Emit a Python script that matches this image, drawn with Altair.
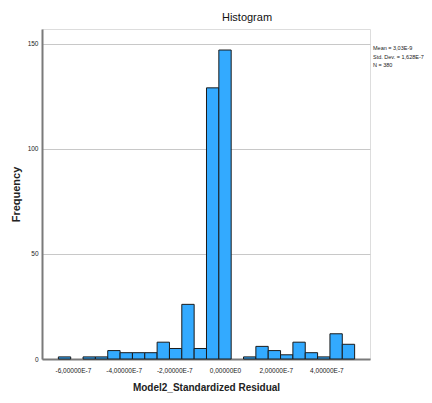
import altair as alt
import pandas as pd

# Histogram of Model2_Standardized Residual
bin_width = 0.487e-7
first_edge = -13.5 * bin_width
counts = [1, 0, 1, 1, 4, 3, 3, 3, 8, 5, 26, 5, 129, 147,
          0, 1, 6, 4, 2, 8, 3, 1, 12, 7]
x_ticks = [-6e-7, -4e-7, -2e-7, 0.0, 2e-7, 4e-7]
y_ticks = [0, 50, 100, 150]
stats_lines = ["Mean = 3,03E-9", "Std. Dev. = 1,628E-7", "N = 380"]

rows = []
for i, c in enumerate(counts):
    if c > 0:
        lo = first_edge + i * bin_width
        rows.append({"lo": lo, "hi": lo + bin_width, "count": c})
df = pd.DataFrame(rows)

X_DOM = [-7.22e-7, 5.72e-7]
Y_DOM = [0, 157]
W, H = 328, 330
FONT = "Liberation Sans"

label_expr = ("datum.value == 0 ? '0,00000E0' : "
              "replace(replace(format(datum.value / 1e-7, '.5f'), '.', ','), '\u2212', '-') + 'E-7'")

bars = alt.Chart(df).mark_rect(
    fill="#33aaff", stroke="#1b1b1b", strokeWidth=1
).encode(
    x=alt.X("lo:Q", scale=alt.Scale(domain=X_DOM, nice=False, zero=False),
            axis=alt.Axis(values=x_ticks, labelExpr=label_expr, grid=False,
                          ticks=False, domainColor="#7a7a7a", domainWidth=2,
                          labelFont=FONT, labelFontSize=6.5, labelColor="#222222",
                          labelPadding=8,
                          title="Model2_Standardized Residual",
                          titleFont=FONT, titleFontSize=10,
                          titleFontWeight="bold", titleColor="#222222",
                          titlePadding=9)),
    x2="hi:Q",
    y=alt.Y("count:Q", scale=alt.Scale(domain=Y_DOM, nice=False),
            axis=alt.Axis(values=y_ticks, grid=True, gridColor="#c8c8c8",
                          gridWidth=1, ticks=False, domainColor="#7a7a7a",
                          domainWidth=2, labelFont=FONT, labelFontSize=6.5,
                          labelColor="#222222", labelPadding=4,
                          title="Frequency", titleFont=FONT,
                          titleFontSize=11, titleFontWeight="bold",
                          titleColor="#222222", titlePadding=6)),
    y2=alt.datum(0),
)

stats_df = pd.DataFrame({"t": stats_lines, "i": list(range(len(stats_lines)))})
stats = alt.Chart(stats_df).mark_text(
    align="left", baseline="middle", font=FONT, fontSize=5.5, color="#222222"
).encode(
    x=alt.value(W + 3),
    y=alt.Y("i:Q", scale=alt.Scale(domain=[0, len(stats_lines) - 1],
                                   range=[19, 36]), axis=None),
    text="t:N",
)

chart = alt.layer(bars, stats).resolve_scale(y="independent").properties(
    width=W, height=H,
    autosize=alt.AutoSizeParams(type="none"),
    padding={"left": 34, "top": 21, "right": 54, "bottom": 36},
    title=alt.TitleParams("Histogram", font=FONT, fontSize=11,
                          fontWeight="normal", color="#111111", anchor="middle",
                          dx=41, offset=6),
).configure_view(stroke=None).configure(background="white")

chart.save("out.html", embed_options={"renderer": "svg", "actions": False})
